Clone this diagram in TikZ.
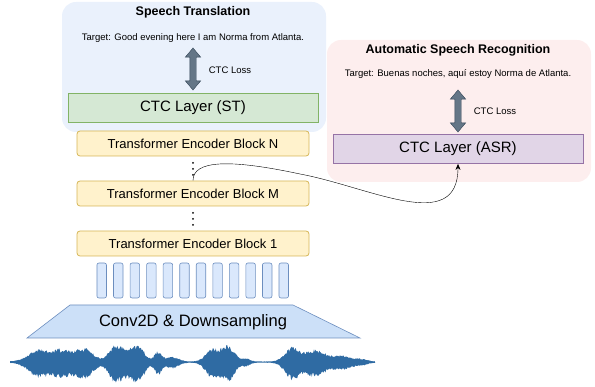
\documentclass[tikz,border=0pt]{standalone}
\usepackage{fontspec}
\setmainfont{Liberation Sans}
\usetikzlibrary{arrows.meta,shapes.arrows}

\definecolor{stbg}{HTML}{EAF1FC}
\definecolor{asrbg}{HTML}{FDEEEE}
\definecolor{ctcstfill}{HTML}{D5E8D4}
\definecolor{ctcstline}{HTML}{82B366}
\definecolor{ctcasrfill}{HTML}{E1D5E7}
\definecolor{ctcasrline}{HTML}{9673A6}
\definecolor{blkfill}{HTML}{FFF2CC}
\definecolor{blkline}{HTML}{D6B656}
\definecolor{featfill}{HTML}{DAE8FC}
\definecolor{featline}{HTML}{6C8EBF}
\definecolor{convfill}{HTML}{CCE0F8}
\definecolor{lossfill}{HTML}{647687}
\definecolor{lossline}{HTML}{314354}
\definecolor{wavecol}{HTML}{2F6BA3}

\begin{document}
\begin{tikzpicture}[x=1pt,y=-1pt,
    panel/.style={rounded corners=14pt, inner sep=0pt},
    title/.style={font=\fontsize{12.5}{14}\selectfont\bfseries},
    small/.style={font=\fontsize{9.5}{11}\selectfont},
    ctc/.style={draw, line width=0.8pt, minimum width=250pt, minimum height=29pt, font=\fontsize{15}{17}\selectfont},
    block/.style={draw=blkline, fill=blkfill, line width=0.8pt, rounded corners=3pt, minimum width=232pt, minimum height=25pt, font=\fontsize{13}{15}\selectfont},
    feat/.style={draw=featline, fill=featfill, line width=0.6pt, rounded corners=2pt, minimum width=9.5pt, minimum height=35pt, inner sep=0pt},
    loss/.style={shape=double arrow, rotate=90, draw=lossline, fill=lossfill, inner xsep=0pt, inner ysep=3pt, minimum height=42pt, double arrow head extend=4.5pt, double arrow tip angle=80},
    declare function={env(\t)=0.6+12*exp(-((\t-38)/14)^2)+12*exp(-((\t-62)/14)^2)+13*exp(-((\t-85)/12)^2)
      +16*exp(-((\t-115)/9)^2)+8*exp(-((\t-126)/8)^2)+16*exp(-((\t-138)/9)^2)+10*exp(-((\t-158)/5)^2)+5*exp(-((\t-172)/9)^2)
      +13*exp(-((\t-212)/9)^2)+16*exp(-((\t-228)/9)^2)+3*exp(-((\t-246)/6)^2)
      +14*exp(-((\t-292)/10)^2)+12*exp(-((\t-315)/14)^2)+6*exp(-((\t-342)/14)^2)+2*exp(-((\t-362)/8)^2);}
  ]
  \useasboundingbox (0,0) rectangle (595,387);

  % panels
  \node[panel, fill=stbg, minimum width=264pt, minimum height=130pt] (stpanel) at (194,67){};
  \node[panel, fill=asrbg, minimum width=264pt, minimum height=142pt] (asrpanel) at (459,111){};

  % speech translation
  \node[title] (sttitle) at (193,12){Speech Translation};
  \node[small] (sttarget) at (193,38){Target: Good evening here I am Norma from Atlanta.};
  \node[loss] (lossST) at (193,69){};
  \node[small] (lossSTlbl) at (230,70){CTC Loss};
  \node[ctc, draw=ctcstline, fill=ctcstfill] (ctcST) at (193,107.5){CTC Layer (ST)};

  % speech recognition
  \node[title] (asrtitle) at (458,50){Automatic Speech Recognition};
  \node[small] (asrtarget) at (458,74){Target: Buenas noches, aquí estoy Norma de Atlanta.};
  \node[loss] (lossASR) at (458,111){};
  \node[small] (lossASRlbl) at (495,111){CTC Loss};
  \node[ctc, draw=ctcasrline, fill=ctcasrfill] (ctcASR) at (458,149){CTC Layer (ASR)};

  % encoder
  \node[block] (blkN) at (193,143.5){Transformer Encoder Block N};
  \node[block] (blkM) at (193,193.5){Transformer Encoder Block M};
  \node[block] (blk1) at (193,243.5){Transformer Encoder Block 1};
  \foreach \y in {163,169,175,213,219,225}
    \fill (193,\y) circle (1pt);

  \draw[-{Stealth[length=6pt,width=5pt]}] (blkM.north) .. controls (193,160) and (230,159) .. (300,174)
    .. controls (370,187) and (458,235) .. (ctcASR.south);

  % features
  \foreach \i in {0,...,11}
    \node[feat] (feat\i) at (101.7+\i*16.55,280.5){};

  \draw[draw=featline, fill=convfill, line width=0.6pt] (70,305) -- (293,305) -- (360,338) -- (27,338) -- cycle;
  \node[font=\fontsize{16.5}{18}\selectfont] (conv) at (193,322){Conv2D \& Downsampling};

  % waveform
  \pgfmathsetseed{11}
  \fill[wavecol] plot[domain=10:375, samples=480] (\x, {362-env(\x)*(0.7+0.3*rnd)})
    -- plot[domain=375:10, samples=480] (\x, {362+1.2*env(\x)*(0.7+0.3*rnd)}) -- cycle;

\end{tikzpicture}
\end{document}
